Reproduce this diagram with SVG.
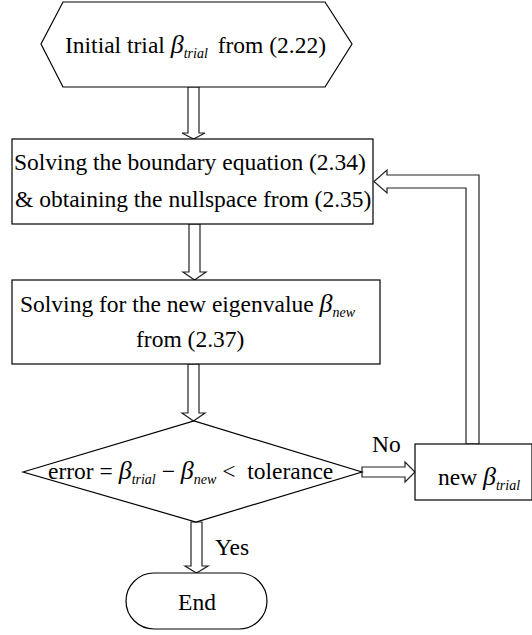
<svg xmlns="http://www.w3.org/2000/svg" width="532" height="635" viewBox="0 0 532 635" font-family="Liberation Serif">
<style>
.n{fill:#fff;stroke:#000;stroke-width:1.2}
.c{fill:#fff;stroke:#222;stroke-width:1.2;stroke-linejoin:miter}
.t{font-size:23.5px;fill:#000}
.b{font-style:italic;font-size:26px}
.s{font-style:italic;font-size:14px}
</style>
<rect width="532" height="635" fill="#fff"/>
<g id="connectors">
<polygon class="c" points="188,87 199,87 199,133 205,133 193.5,139 182,133 188,133"/>
<polygon class="c" points="189,224 200,224 200,272 206,272 194.5,280 183,272 189,272"/>
<polygon class="c" points="188,364 199,364 199,413 205,413 193.5,421 182,413 188,413"/>
<polygon class="c" points="191,522 202,522 202,566 208,566 196.5,573 185,566 191,566"/>
<polygon class="c" points="362,467 405,467 405,462 415,472 405,482 405,477 362,477"/>
<polygon class="c" points="466,444 466,188 387,188 387,193 374,181.5 387,170 387,175 479,175 479,444"/>
<text class="t" font-family="Liberation Serif" x="372" y="452">No</text>
<text class="t" font-family="Liberation Serif" x="215" y="555">Yes</text>
</g>
<g id="start">
<polygon class="n" points="41,44 63,2 325,2 352,44 325,87 63,87"/>
<text class="t" font-family="Liberation Serif" x="65" y="53">Initial trial <tspan class="b">β</tspan><tspan class="s" dy="5">trial</tspan><tspan dy="-5" dx="4"> from (2.22)</tspan></text>
</g>
<g id="boundary">
<rect class="n" x="12" y="139" width="361" height="85"/>
<text class="t" font-family="Liberation Serif" x="14" y="170">Solving the boundary equation (2.34)</text>
<text class="t" font-family="Liberation Serif" x="15" y="207">&amp; obtaining the nullspace from (2.35)</text>
</g>
<g id="eigen">
<rect class="n" x="12" y="280" width="368" height="84"/>
<text class="t" font-family="Liberation Serif" x="20" y="312" font-size="24.5">Solving for the new eigenvalue <tspan class="b" font-size="27">β</tspan><tspan class="s" dy="5">new</tspan></text>
<text class="t" font-family="Liberation Serif" x="136" y="347" font-size="24.5">from (2.37)</text>
</g>
<g id="decision">
<polygon class="n" points="23,472 194,421 362,472 196,522"/>
<text class="t" font-family="Liberation Serif" x="48" y="479" font-size="24.5">error = <tspan class="b" font-size="27">β</tspan><tspan class="s" dy="5" font-size="15">trial</tspan><tspan dy="-5"> − </tspan><tspan class="b" font-size="27">β</tspan><tspan class="s" dy="5" font-size="15">new</tspan><tspan dy="-5"> &lt;&#160;&#160;tolerance</tspan></text>
</g>
<g id="newbeta">
<rect class="n" x="415" y="444" width="117" height="56"/>
<text class="t" font-family="Liberation Serif" x="438" y="485">new <tspan class="b">β</tspan><tspan class="s" dy="5">trial</tspan></text>
</g>
<g id="end">
<rect class="n" x="126" y="573" width="141" height="56" rx="28" ry="28"/>
<text class="t" font-family="Liberation Serif" x="197" y="610" text-anchor="middle">End</text>
</g>
</svg>
